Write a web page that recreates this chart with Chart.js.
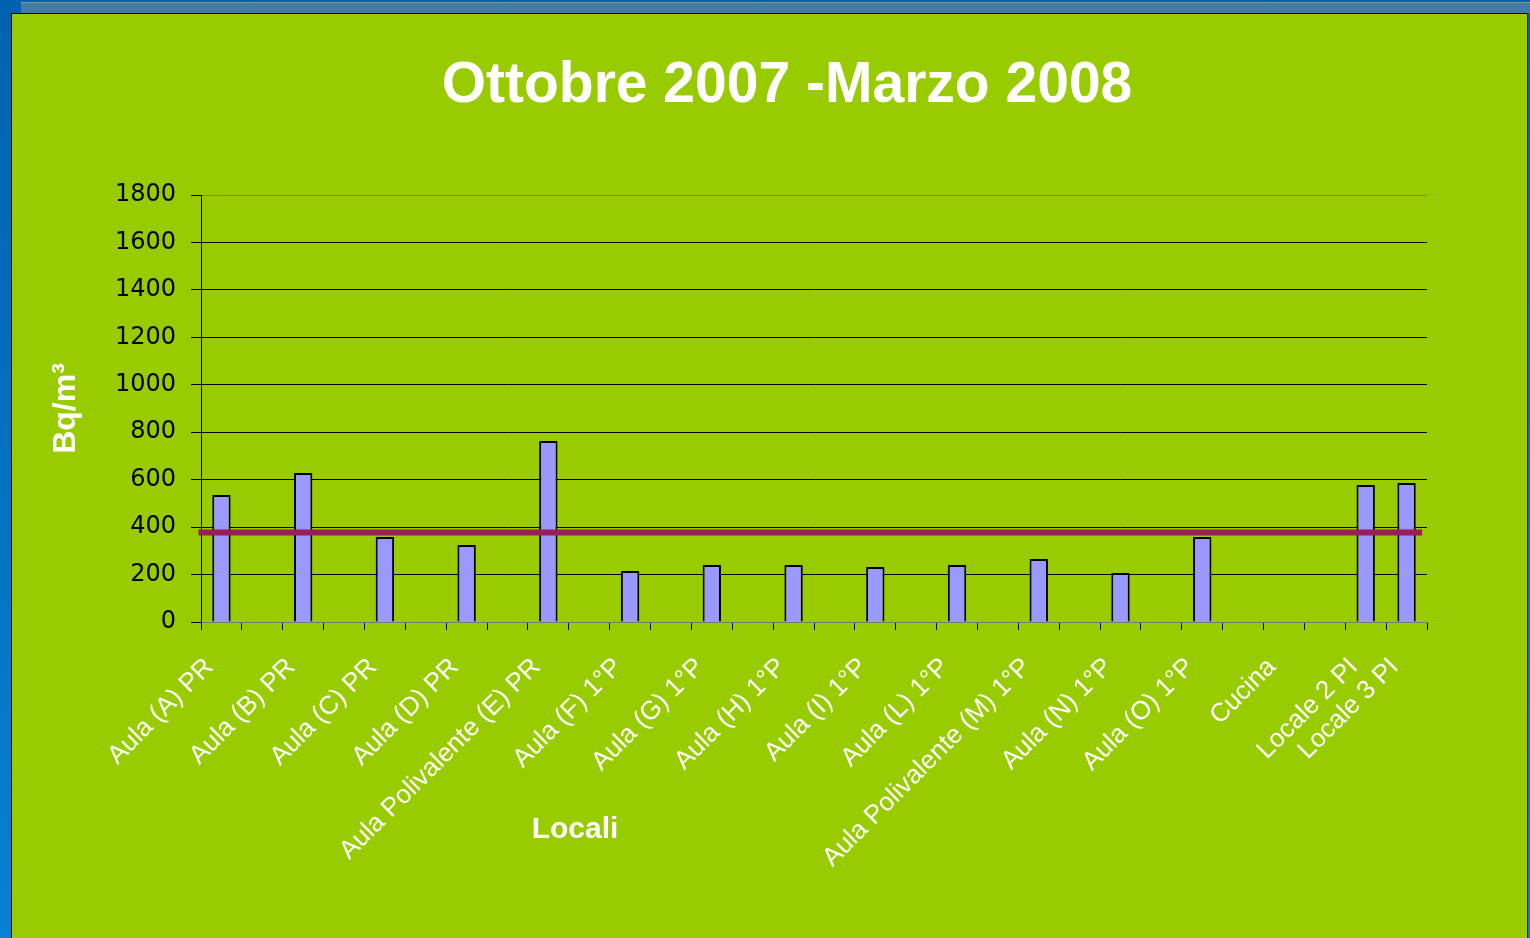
<!DOCTYPE html>
<html lang="it">
<head>
    <meta charset="UTF-8">
    <title>Ottobre 2007 - Marzo 2008</title>
    <script src="https://cdn.jsdelivr.net/npm/chart.js"></script>
    <style>
        body {
            margin: 0;
            width: 1530px;
            height: 938px;
            overflow: hidden;
            background: linear-gradient(to bottom, #0062ae, #0a7fd4);
            position: relative;
        }
        .bande {
            position: absolute;
            left: 21px; top: 2px; right: 0;
            height: 10px;
            background: #437ca3;
            border-top: 1px solid #7d98ab;
        }
        .cadre {
            position: absolute;
            left: 11px; top: 13px; right: 2px; bottom: 0;
            background: #99cc00;
            border-left: 1px solid #000;
            border-top: 1px solid #000;
            border-right: 1px solid #333;
        }
        canvas { display: block; }
    </style>
</head>
<body>
    <div class="bande"></div>
    <div class="cadre">
        <canvas id="grafico" width="1516" height="924"></canvas>
    </div>
    <script>
        // Dati (Bq/m3)
        const titolo = 'Ottobre 2007 -Marzo 2008';
        const titoloY = 'Bq/m³';
        const titoloX = 'Locali';
        const locali = [
            'Aula (A) PR', '', 'Aula (B) PR', '', 'Aula (C) PR', '', 'Aula (D) PR', '',
            'Aula Polivalente (E) PR', '', 'Aula (F) 1°P', '', 'Aula (G) 1°P', '',
            'Aula (H) 1°P', '', 'Aula (I) 1°P', '', 'Aula (L) 1°P', '',
            'Aula Polivalente (M) 1°P', '', 'Aula (N) 1°P', '', 'Aula (O) 1°P', '',
            'Cucina', '', 'Locale 2 PI', 'Locale 3 PI'
        ];
        const valori = [
            535, null, 628, null, 358, null, 325, null,
            763, null, 215, null, 240, null,
            240, null, 232, null, 240, null,
            266, null, 207, null, 358, null,
            null, null, 578, 586
        ];
        // livello di riferimento (linea orizzontale)
        const sogliaX = [-0.002, 0.996];
        const sogliaY = [377, 377];

        const testiFissi = {
            id: 'testiFissi',
            afterDraw(chart) {
                const ctx = chart.ctx;
                ctx.save();
                ctx.fillStyle = '#ffffff';
                ctx.textAlign = 'center';
                ctx.textBaseline = 'middle';
                ctx.font = 'bold 57px "Liberation Sans", Arial, sans-serif';
                ctx.fillText(titolo, 775, 72);
                ctx.font = 'bold 30px "Liberation Sans", Arial, sans-serif';
                ctx.fillText(titoloX, 563, 816);
                ctx.restore();
            }
        };

        const ctx = document.getElementById('grafico').getContext('2d');
        new Chart(ctx, {
            type: 'bar',
            data: {
                labels: locali,
                datasets: [{
                    type: 'line',
                    label: 'Riferimento',
                    data: sogliaX.map((x, i) => ({ x: x, y: sogliaY[i] })),
                    xAxisID: 'xl',
                    borderColor: '#9a1c58',
                    borderWidth: 6,
                    pointRadius: 0,
                    clip: false,
                    order: 0
                }, {
                    type: 'bar',
                    label: 'Ottobre 2007 - Marzo 2008',
                    data: valori,
                    xAxisID: 'x',
                    backgroundColor: '#9999ff',
                    borderColor: '#000000',
                    borderWidth: 2,
                    grouped: false,
                    barPercentage: 0.45,
                    categoryPercentage: 1,
                    order: 1
                }]
            },
            options: {
                responsive: false,
                animation: false,
                layout: { padding: { top: 181, right: 101, bottom: 0, left: 0 } },
                plugins: {
                    legend: { display: false },
                    title: { display: false },
                    tooltip: { enabled: false }
                },
                scales: {
                    x: {
                        type: 'category',
                        offset: true,
                        afterFit(scale) { scale.height = 316; },
                        border: { color: '#777777', width: 1 },
                        grid: {
                            offset: true,
                            drawOnChartArea: true,
                            color: (c) => c.index === locali.length ? '#808080' : 'rgba(0,0,0,0)',
                            tickColor: '#000000',
                            tickLength: 8
                        },
                        ticks: {
                            autoSkip: false,
                            minRotation: 45,
                            maxRotation: 45,
                            padding: 22,
                            labelOffset: -12,
                            color: '#ffffff',
                            font: { family: '"Liberation Sans", Arial, sans-serif', size: 26 }
                        }
                    },
                    xl: {
                        type: 'linear',
                        display: false,
                        offset: false,
                        grid: { offset: false },
                        min: 0,
                        max: 1
                    },
                    y: {
                        min: 0,
                        max: 1800,
                        afterFit(scale) { scale.width = 189; },
                        border: { color: '#000000', width: 1 },
                        grid: {
                            color: (c) => (c.tick.value === 1800 || c.tick.value === 0) ? '#808080' : '#000000',
                            tickColor: '#000000',
                            tickLength: 10
                        },
                        ticks: {
                            stepSize: 200,
                            padding: 15,
                            color: '#000000',
                            callback: (v) => String(v),
                            font: { family: '"DejaVu Sans", sans-serif', size: 24 }
                        },
                        title: {
                            display: true,
                            text: titoloY,
                            color: '#ffffff',
                            padding: { top: 35, bottom: 0 },
                            font: { family: '"Liberation Sans", Arial, sans-serif', size: 32, weight: 'bold' }
                        }
                    }
                }
            },
            plugins: [testiFissi]
        });
    </script>
</body>
</html>
